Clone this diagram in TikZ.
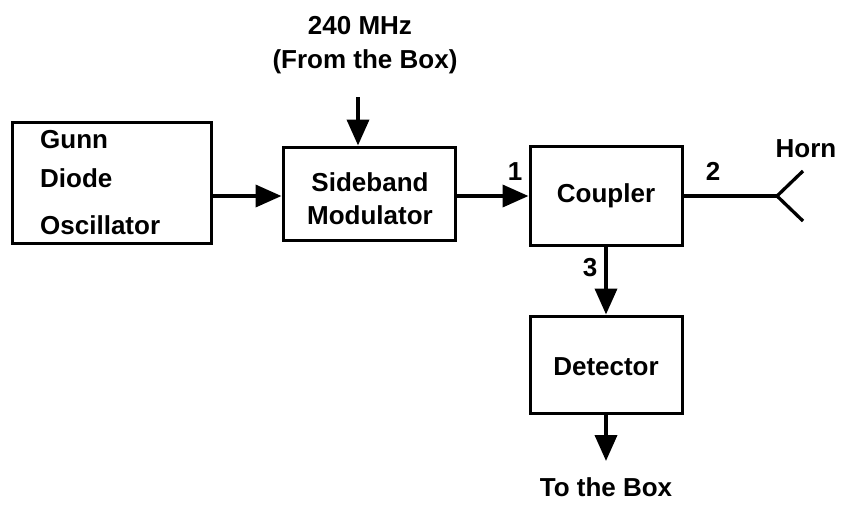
\documentclass[tikz,border=0pt]{standalone}
\usepackage{fontspec}
\setmainfont{Liberation Sans}
\usetikzlibrary{arrows.meta}
\begin{document}
\begin{tikzpicture}[x=1pt,y=-1pt,
  blk/.style={draw,line width=3pt,inner sep=0pt},
  lbl/.style={inner sep=0pt,font=\fontsize{26}{30}\selectfont\bfseries},
  arr/.style={line width=3.8pt,-{Triangle[length=26pt,width=22pt]}},
  wire/.style={line width=3.3pt}]
\useasboundingbox (0,0) rectangle (850,504);
% boxes
\node[blk,minimum width=199pt,minimum height=121pt] (gunn) at (111.5,182.5) {};
\node[blk,minimum width=172pt,minimum height=93pt] (sb) at (369,193.5) {};
\node[blk,minimum width=152pt,minimum height=99pt] (cp) at (606,195.5) {};
\node[blk,minimum width=152pt,minimum height=97pt] (det) at (606,364.5) {};
% texts
\node[lbl,anchor=west] (t1) at (40,140) {Gunn};
\node[lbl,anchor=west] (t2) at (40,178) {Diode};
\node[lbl,anchor=west] (t3) at (40,225) {Oscillator};
\node[lbl] (t4) at (370,182) {Sideband};
\node[lbl] (t5) at (370,215) {Modulator};
\node[lbl] (t6) at (606,196) {Coupler};
\node[lbl] (t7) at (606,367) {Detector};
\node[lbl] (mhz) at (360,26) {240 MHz};
\node[lbl] (from) at (365,62) {(From the Box)};
\node[lbl] (tobox) at (606,487) {To the Box};
\node[lbl] (horn) at (806,149) {Horn};
\node[lbl] (n1) at (515,172) {1};
\node[lbl] (n2) at (713,171) {2};
\node[lbl] (n3) at (590,268) {3};
% connectors
\coordinate (in) at (358,97);
\coordinate (out) at (606,461);
\coordinate (htip) at (777,196);
\coordinate (hup) at (803,171);
\coordinate (hlo) at (803,221);
\draw[arr] (gunn.east |- 0,196) -- (sb.west |- 0,196);
\draw[arr] (sb.east |- 0,196) -- (cp.west |- 0,196);
\draw[arr] (in) -- (in |- sb.north);
\draw[arr] (cp.south) -- (det.north);
\draw[arr] (det.south) -- (out);
\draw[wire] (cp.east |- htip) -- (htip);
\draw[wire,line join=miter] (hup) -- (htip) -- (hlo);
\end{tikzpicture}
\end{document}
